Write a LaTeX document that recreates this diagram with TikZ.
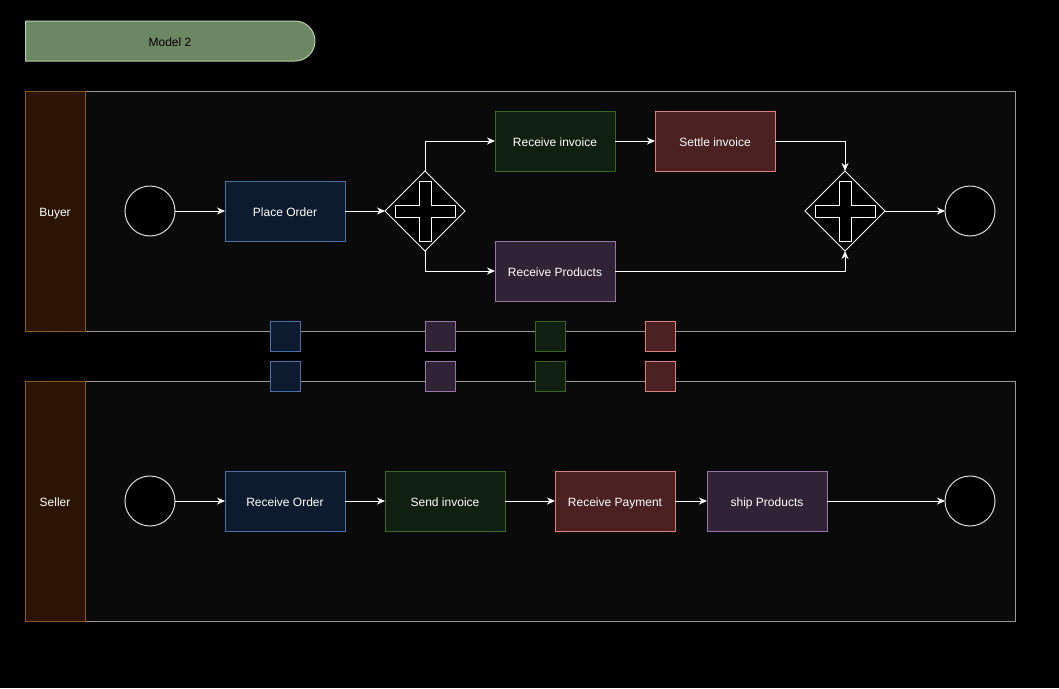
\documentclass[tikz,border=0pt]{standalone}
\usepackage{fontspec}
\setmainfont{Liberation Sans}
\usepackage{tikz}
\usetikzlibrary{arrows.meta, positioning, shapes.geometric, shapes.misc}
\definecolor{bluefill}{RGB}{12,27,46}
\definecolor{blueline}{RGB}{78,111,166}
\definecolor{purplefill}{RGB}{48,35,54}
\definecolor{purpleline}{RGB}{150,120,165}
\definecolor{greenfill}{RGB}{16,32,16}
\definecolor{greenline}{RGB}{60,100,40}
\definecolor{redfill}{RGB}{74,32,32}
\definecolor{redline}{RGB}{214,130,130}
\definecolor{lanefill}{RGB}{44,20,4}
\definecolor{laneline}{RGB}{140,90,30}
\definecolor{poolfill}{RGB}{10,10,10}
\definecolor{poolline}{RGB}{150,150,150}
\definecolor{titlefill}{RGB}{109,135,100}
\definecolor{titleline}{RGB}{180,210,160}
\definecolor{eventline}{RGB}{220,220,220}
\tikzstyle{task} = [rectangle, draw, minimum width=120pt, minimum height=60pt,
  outer sep=0pt, text=white, text height=10pt, text depth=0pt, font=\fontsize{12}{14}\selectfont]
\tikzstyle{event} = [circle, draw=eventline, fill=black, minimum size=50pt, inner sep=0pt, outer sep=0pt]
\tikzstyle{gateway} = [diamond, draw=white, fill=black, minimum width=80pt, minimum height=80pt,
  inner sep=0pt, outer sep=0pt]
\tikzstyle{pool} = [rectangle, draw=poolline, fill=poolfill, minimum width=930pt, minimum height=240pt, outer sep=0pt]
\tikzstyle{lanehead} = [rectangle, draw=laneline, fill=lanefill, minimum width=60pt, minimum height=240pt,
  outer sep=0pt, text=white, text height=10pt, text depth=0pt, font=\fontsize{12}{14}\selectfont]
\tikzstyle{dataobj} = [rectangle, draw, minimum size=30pt, inner sep=0pt]
\tikzstyle{arrow} = [white, -{Stealth[length=8pt, width=7pt]}]

\begin{document}
\begin{tikzpicture}[x=1pt, y=-1pt, line width=1pt]
    \fill[black] (0,0) rectangle (1059,688);
    \useasboundingbox (0,0) rectangle (1059,688);
    \node[rounded rectangle, rounded rectangle west arc=none, draw=titleline, fill=titlefill,
      minimum width=296pt, minimum height=40pt, text height=10pt, text depth=0pt,
      font=\fontsize{12}{14}\selectfont] (model) at (170,41) {Model 2};
    % pools
    \node[pool] (buyerpool) at (550,211) {};
    \node[lanehead, left=0pt of buyerpool] (buyer) {Buyer};
    \node[pool] (sellerpool) at (550,501) {};
    \node[lanehead, left=0pt of sellerpool] (seller) {Seller};
    % buyer
    \node[event] (bstart) at (150,211) {};
    \node[task, fill=bluefill, draw=blueline, right=50pt of bstart] (po) {Place Order};
    \node[gateway, right=40pt of po] (gwa) {};
    \node[task, fill=greenfill, draw=greenline] (ri) at (555,141) {Receive invoice};
    \node[task, fill=redfill, draw=redline, right=40pt of ri] (si) {Settle invoice};
    \node[task, fill=purplefill, draw=purpleline] (rp) at (555,271) {Receive Products};
    \node[gateway] (gwb) at (845,211) {};
    \node[event, right=60pt of gwb] (bend) {};
    \foreach \g in {gwa,gwb}
      \draw[white, fill=black, shift={(\g.center)}] (-6,-30) -- (6,-30) -- (6,-6) -- (30,-6) -- (30,6)
        -- (6,6) -- (6,30) -- (-6,30) -- (-6,6) -- (-30,6) -- (-30,-6) -- (-6,-6) -- cycle;
    \draw[arrow] (bstart) -- (po);
    \draw[arrow] (po) -- (gwa);
    \draw[arrow] (gwa.north) |- (ri);
    \draw[arrow] (gwa.south) |- (rp);
    \draw[arrow] (ri) -- (si);
    \draw[arrow] (si) -| (gwb.north);
    \draw[arrow] (rp) -| (gwb.south);
    \draw[arrow] (gwb) -- (bend);
    % seller
    \node[event] (sstart) at (150,501) {};
    \node[task, fill=bluefill, draw=blueline, right=50pt of sstart] (ro) {Receive Order};
    \node[task, fill=greenfill, draw=greenline, right=40pt of ro] (sinv) {Send invoice};
    \node[task, fill=redfill, draw=redline, right=50pt of sinv] (rpay) {Receive Payment};
    \node[task, fill=purplefill, draw=purpleline, right=32pt of rpay] (ship) {ship Products};
    \node[event] (send) at (970,501) {};
    \draw[arrow] (sstart) -- (ro);
    \draw[arrow] (ro) -- (sinv);
    \draw[arrow] (sinv) -- (rpay);
    \draw[arrow] (rpay) -- (ship);
    \draw[arrow] (ship) -- (send);
    % messages
    \foreach \x/\c in {285/blue, 440/purple, 550/green, 660/red} {
      \node[dataobj, fill=\c fill, draw=\c line] (up\c) at (\x,336) {};
      \node[dataobj, fill=\c fill, draw=\c line] (dn\c) at (\x,376) {};
    }
  \end{tikzpicture}
\end{document}
